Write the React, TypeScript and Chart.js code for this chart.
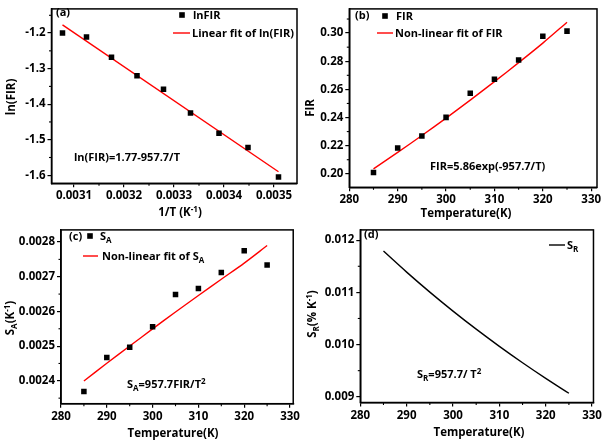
import React, { useEffect, useRef } from 'react';
import { Chart, registerables } from 'chart.js';

Chart.register(...registerables);

// ---------- data ----------
const TEMPS = [285, 290, 295, 300, 305, 310, 315, 320, 325];
const INV_T = [0.003509, 0.003448, 0.00339, 0.003333, 0.003279, 0.003226, 0.003175, 0.003125, 0.003077];
const LN_FIR = [-1.605, -1.522, -1.482, -1.425, -1.358, -1.32, -1.268, -1.211, -1.2];
const LN_FIT_X = [0.003077, 0.003509];
const LN_FIT_Y = [-1.177, -1.59];
const FIR = [0.201, 0.2183, 0.2268, 0.2401, 0.2572, 0.2672, 0.2808, 0.2977, 0.3014];
const FIR_FIT = [0.2035, 0.2152, 0.2272, 0.2396, 0.2524, 0.2655, 0.279, 0.2929, 0.3077];
const SA = [0.002369, 0.002467, 0.002497, 0.002556, 0.002649, 0.002666, 0.002712, 0.002775, 0.002734];
const SA_FIT = [0.0023995, 0.0024506, 0.0025003, 0.0025496, 0.0025985, 0.0026459, 0.0026928, 0.0027394, 0.0027899];
const SR = [0.011791, 0.011388, 0.011005, 0.010641, 0.010295, 0.009966, 0.009652, 0.009353, 0.009067];

const W = 302;
const H = 221;
const FONT = '"Open Sans", Lato, sans-serif';

const pts = (xs: number[], ys: number[]) => xs.map((x, i) => ({ x, y: ys[i] }));

// ---------- rich text ----------
type Seg = { t: string; mode: number };
function parseRich(s: string): Seg[] {
  const out: Seg[] = [];
  let i = 0;
  let buf = '';
  while (i < s.length) {
    const c = s[i];
    if ((c === '_' || c === '^') && s[i + 1] === '{') {
      if (buf) { out.push({ t: buf, mode: 0 }); buf = ''; }
      const end = s.indexOf('}', i + 2);
      out.push({ t: s.slice(i + 2, end), mode: c === '^' ? 1 : -1 });
      i = end + 1;
    } else { buf += c; i++; }
  }
  if (buf) out.push({ t: buf, mode: 0 });
  return out;
}

function drawRich(ctx: CanvasRenderingContext2D, s: string, x: number, y: number, size: number, weight: string, align: 'left' | 'center', rotate = false) {
  const segs = parseRich(s);
  const fontFor = (m: number) => `${weight} ${m === 0 ? size : Math.round(size * 0.72)}px ${FONT}`;
  let w = 0;
  for (const g of segs) { ctx.font = fontFor(g.mode); w += ctx.measureText(g.t).width; }
  ctx.save();
  ctx.translate(x, y);
  if (rotate) ctx.rotate(-Math.PI / 2);
  ctx.textBaseline = 'alphabetic';
  ctx.textAlign = 'left';
  ctx.fillStyle = '#000';
  let cx = align === 'center' ? -w / 2 : 0;
  const base = size * 0.36;
  for (const g of segs) {
    ctx.font = fontFor(g.mode);
    const dy = g.mode === 1 ? -size * 0.4 : g.mode === -1 ? size * 0.28 : 0;
    ctx.fillText(g.t, cx, base + dy);
    cx += ctx.measureText(g.t).width;
  }
  ctx.restore();
}

// ---------- panels ----------
type Axis = { min: number; max: number; step: number; dec: number };
type LegendItem = { kind: 'marker' | 'line'; color: string; x1: number; x2?: number; y: number; text: string; tx: number };
interface Panel {
  left: number; top: number;
  area: { l: number; r: number; t: number; b: number };
  x: Axis; y: Axis;
  datasets: any[];
  yTitle: { text: string; x: number; y: number };
  xTitle: { text: string; x: number; y: number };
  label: { text: string; x: number; y: number };
  legend: LegendItem[];
  eq: { text: string; x: number; y: number };
}

const markerSet = (data: { x: number; y: number }[]) => ({
  data, showLine: false, pointStyle: 'rect', pointRadius: 3.9, pointBackgroundColor: '#000',
  pointBorderColor: '#000', pointBorderWidth: 0, order: 0,
});
const lineSet = (data: { x: number; y: number }[], color: string, tension = 0) => ({
  data, showLine: true, pointRadius: 0, borderColor: color, borderWidth: 1.4, tension, fill: false, order: 1,
});

const RED = '#ff0000';

const PANELS: Panel[] = [
  {
    left: 0, top: 0,
    area: { l: 51.5, r: 297, t: 3, b: 183.3 },
    x: { min: 0.003055, max: 0.003546, step: 0.0001, dec: 4 },
    y: { min: -1.6226, max: -1.132, step: 0.1, dec: 1 },
    datasets: [markerSet(pts(INV_T, LN_FIR)), lineSet(pts(LN_FIT_X, LN_FIT_Y), RED)],
    yTitle: { text: 'ln(FIR)', x: 11, y: 97 },
    xTitle: { text: '1/T (K^{-1})', x: 180, y: 212 },
    label: { text: '(a)', x: 56, y: 12 },
    legend: [
      { kind: 'marker', color: '#000', x1: 182, y: 15, text: 'lnFIR', tx: 193 },
      { kind: 'line', color: RED, x1: 173, x2: 190, y: 33, text: 'Linear fit of ln(FIR)', tx: 192 },
    ],
    eq: { text: 'ln(FIR)=1.77-957.7/T', x: 74, y: 157 },
  },
  {
    left: 302, top: 0,
    area: { l: 47.3, r: 295, t: 3, b: 187.3 },
    x: { min: 280, max: 331.2, step: 10, dec: 0 },
    y: { min: 0.1904, max: 0.3172, step: 0.02, dec: 2 },
    datasets: [markerSet(pts(TEMPS, FIR)), lineSet(pts(TEMPS, FIR_FIT), RED, 0.3)],
    yTitle: { text: 'FIR', x: 8, y: 108 },
    xTitle: { text: 'Temperature(K)', x: 164, y: 213 },
    label: { text: '(b)', x: 53, y: 15 },
    legend: [
      { kind: 'marker', color: '#000', x1: 83, y: 16, text: 'FIR', tx: 94 },
      { kind: 'line', color: RED, x1: 75, x2: 91, y: 33, text: 'Non-linear fit of FIR', tx: 93 },
    ],
    eq: { text: 'FIR=5.86exp(-957.7/T)', x: 128, y: 166 },
  },
  {
    left: 0, top: 221,
    area: { l: 61, r: 293.3, t: 1.7, b: 182.7 },
    x: { min: 280, max: 330.7, step: 10, dec: 0 },
    y: { min: 0.002334, max: 0.002835, step: 0.0001, dec: 4 },
    datasets: [markerSet(pts(TEMPS, SA)), lineSet(pts(TEMPS, SA_FIT), RED, 0.3)],
    yTitle: { text: 'S_{A}(K^{-1})', x: 10, y: 97 },
    xTitle: { text: 'Temperature(K)', x: 173, y: 212 },
    label: { text: '(c)', x: 69, y: 15 },
    legend: [
      { kind: 'marker', color: '#000', x1: 90, y: 15, text: 'S_{A}', tx: 100 },
      { kind: 'line', color: RED, x1: 83, x2: 98, y: 35, text: 'Non-linear fit of S_{A}', tx: 102 },
    ],
    eq: { text: 'S_{A}=957.7FIR/T^{2}', x: 127, y: 163 },
  },
  {
    left: 302, top: 221,
    area: { l: 58.3, r: 293, t: 2.3, b: 181.5 },
    x: { min: 280, max: 330.3, step: 10, dec: 0 },
    y: { min: 0.00889, max: 0.012197, step: 0.001, dec: 3 },
    datasets: [lineSet(pts(TEMPS, SR), '#000', 0.4)],
    yTitle: { text: 'S_{R}(% K^{-1})', x: 10, y: 93 },
    xTitle: { text: 'Temperature(K)', x: 177, y: 211 },
    label: { text: '(d)', x: 62, y: 13 },
    legend: [
      { kind: 'line', color: '#000', x1: 247, x2: 263, y: 24, text: 'S_{R}', tx: 265 },
    ],
    eq: { text: 'S_{R}=957.7/ T^{2}', x: 115, y: 153 },
  },
];

// ---------- plugin ----------
const decor = {
  id: 'decor',
  afterDraw(chart: any, _args: any, opts: any) {
    const p: Panel = opts.panel;
    if (!p) return;
    const ctx: CanvasRenderingContext2D = chart.ctx;
    const a = chart.chartArea;
    ctx.save();
    // frame
    ctx.strokeStyle = '#000';
    ctx.lineWidth = 1.5;
    ctx.strokeRect(a.left, a.top, a.right - a.left, a.bottom - a.top);
    // minor ticks
    ctx.lineWidth = 1.1;
    for (const id of ['x', 'y']) {
      const s = chart.scales[id];
      const vals: number[] = s.ticks.map((t: any) => t.value);
      if (vals.length < 2) continue;
      const step = vals[1] - vals[0];
      for (let k = -1; k < vals.length; k++) {
        const v = vals[0] + (k + 0.5) * step;
        if (v < s.min || v > s.max) continue;
        const px = s.getPixelForValue(v);
        ctx.beginPath();
        if (id === 'x') { ctx.moveTo(px, a.bottom); ctx.lineTo(px, a.bottom + 2.5); }
        else { ctx.moveTo(a.left, px); ctx.lineTo(a.left - 2.5, px); }
        ctx.stroke();
      }
    }
    // titles
    drawRich(ctx, p.yTitle.text, p.yTitle.x, p.yTitle.y, 11.5, 'bold', 'center', true);
    drawRich(ctx, p.xTitle.text, p.xTitle.x, p.xTitle.y, 11.5, 'bold', 'center');
    drawRich(ctx, p.label.text, p.label.x, p.label.y, 11, 'bold', 'left');
    // legend
    for (const it of p.legend) {
      if (it.kind === 'marker') {
        ctx.fillStyle = it.color;
        ctx.fillRect(it.x1 - 2.8, it.y - 2.8, 5.6, 5.6);
      } else {
        ctx.strokeStyle = it.color;
        ctx.lineWidth = 1.4;
        ctx.beginPath();
        ctx.moveTo(it.x1, it.y);
        ctx.lineTo(it.x2 as number, it.y);
        ctx.stroke();
      }
      drawRich(ctx, it.text, it.tx, it.y, 11, 'bold', 'left');
    }
    drawRich(ctx, p.eq.text, p.eq.x, p.eq.y, 11, 'bold', 'left');
    ctx.restore();
  },
};

function axisOpts(ax: Axis, dir: 'x' | 'y', size: number) {
  return {
    type: 'linear',
    position: dir === 'x' ? 'bottom' : 'left',
    min: ax.min,
    max: ax.max,
    ticks: {
      stepSize: ax.step,
      includeBounds: false,
      autoSkip: false,
      maxRotation: 0,
      minRotation: 0,
      color: '#000',
      padding: 2,
      font: { family: FONT, size: 11.5, weight: 'bold' },
      callback: (v: any) => Number(v).toFixed(ax.dec),
    },
    grid: { drawOnChartArea: false, drawTicks: true, tickLength: 4, color: '#000', lineWidth: 1.2 },
    border: { display: true, color: '#000', width: 1.5 },
    afterFit: (s: any) => {
      if (dir === 'x') s.height = size; else s.width = size;
    },
  };
}

function makeChart(canvas: HTMLCanvasElement, p: Panel) {
  return new Chart(canvas, {
    type: 'scatter',
    data: { datasets: p.datasets },
    options: {
      animation: false,
      responsive: false,
      devicePixelRatio: 1,
      events: [],
      layout: { padding: { left: 0, top: p.area.t, right: W - p.area.r, bottom: 0 } },
      plugins: { legend: { display: false }, tooltip: { enabled: false }, decor: { panel: p } } as any,
      scales: {
        x: axisOpts(p.x, 'x', H - p.area.b) as any,
        y: axisOpts(p.y, 'y', p.area.l) as any,
      },
    },
    plugins: [decor as any],
  });
}

export default function App() {
  const refs = useRef<(HTMLCanvasElement | null)[]>([]);
  useEffect(() => {
    let charts: Chart[] = [];
    let alive = true;
    charts = PANELS.map((p, i) => makeChart(refs.current[i] as HTMLCanvasElement, p));
    const fontsReady = (document as any).fonts
      ? Promise.all([
          (document as any).fonts.load(`bold 12px "Open Sans"`),
          (document as any).fonts.load(`12px "Open Sans"`),
        ])
      : Promise.resolve();
    fontsReady.then(() => {
      if (!alive) return;
      charts.forEach((c) => c.update());
    }).catch(() => {});
    return () => {
      alive = false;
      charts.forEach((c) => c.destroy());
    };
  }, []);

  return (
    <div style={{ position: 'absolute', left: 0, top: 0, width: 604, height: 442, background: '#fff' }}>
      {PANELS.map((p, i) => (
        <canvas
          key={i}
          ref={(el) => { refs.current[i] = el; }}
          width={W}
          height={H}
          style={{ position: 'absolute', left: p.left, top: p.top, width: W, height: H }}
        />
      ))}
    </div>
  );
}
